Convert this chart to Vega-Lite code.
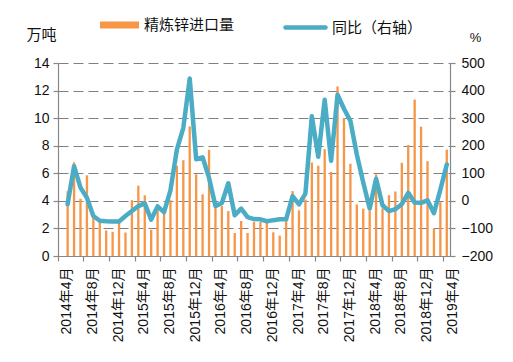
{
  "$schema": "https://vega.github.io/schema/vega-lite/v6.json",
  "width": 392,
  "height": 193,
  "autosize": {"type": "none"},
  "padding": {"left": 58, "top": 63, "right": 63, "bottom": 106},
  "background": "white",
  "config": {
    "view": {"stroke": null},
    "font": "Liberation Sans, Noto Sans CJK SC",
    "axis": {
      "labelFont": "Liberation Sans, Noto Sans CJK SC",
      "titleFont": "Liberation Sans, Noto Sans CJK SC",
      "labelColor": "#111111",
      "titleColor": "#111111",
      "domainColor": "#878787",
      "tickColor": "#878787",
      "domainWidth": 1.2,
      "tickWidth": 1.2
    },
    "legend": {
      "labelFont": "Liberation Sans, Noto Sans CJK SC",
      "labelColor": "#111111"
    }
  },
  "data": {
    "values": [
      {"month": "2014年4月", "vol": null, "yoy": null},
      {"month": "2014年5月", "vol": 4.7, "yoy": -12},
      {"month": "2014年6月", "vol": 6.8, "yoy": 126},
      {"month": "2014年7月", "vol": 4.15, "yoy": 48},
      {"month": "2014年8月", "vol": 5.85, "yoy": 11},
      {"month": "2014年9月", "vol": 2.8, "yoy": -55},
      {"month": "2014年10月", "vol": 2.5, "yoy": -72},
      {"month": "2014年11月", "vol": 1.85, "yoy": -74},
      {"month": "2014年12月", "vol": 1.75, "yoy": -75},
      {"month": "2015年1月", "vol": 2.4, "yoy": -75},
      {"month": "2015年2月", "vol": 1.7, "yoy": -55},
      {"month": "2015年3月", "vol": 4.05, "yoy": -37},
      {"month": "2015年4月", "vol": 5.1, "yoy": -19},
      {"month": "2015年5月", "vol": 4.4, "yoy": -9},
      {"month": "2015年6月", "vol": 1.9, "yoy": -68},
      {"month": "2015年7月", "vol": 3.6, "yoy": -20},
      {"month": "2015年8月", "vol": 3.1, "yoy": -41},
      {"month": "2015年9月", "vol": 4.05, "yoy": 38},
      {"month": "2015年10月", "vol": 6.55, "yoy": 186},
      {"month": "2015年11月", "vol": 6.95, "yoy": 265},
      {"month": "2015年12月", "vol": 9.4, "yoy": 444},
      {"month": "2016年1月", "vol": 5.92, "yoy": 151},
      {"month": "2016年2月", "vol": 4.47, "yoy": 158},
      {"month": "2016年3月", "vol": 7.7, "yoy": 84},
      {"month": "2016年4月", "vol": 3.5, "yoy": -19},
      {"month": "2016年5月", "vol": 3.62, "yoy": -8},
      {"month": "2016年6月", "vol": 3.26, "yoy": 64},
      {"month": "2016年7月", "vol": 1.67, "yoy": -52},
      {"month": "2016年8月", "vol": 2.54, "yoy": -28},
      {"month": "2016年9月", "vol": 1.67, "yoy": -59},
      {"month": "2016年10月", "vol": 2.48, "yoy": -66},
      {"month": "2016年11月", "vol": 2.47, "yoy": -67},
      {"month": "2016年12月", "vol": 2.42, "yoy": -74},
      {"month": "2017年1月", "vol": 1.72, "yoy": -70},
      {"month": "2017年2月", "vol": 1.48, "yoy": -67},
      {"month": "2017年3月", "vol": 2.6, "yoy": -67},
      {"month": "2017年4月", "vol": 4.71, "yoy": 17},
      {"month": "2017年5月", "vol": 3.31, "yoy": -13},
      {"month": "2017年6月", "vol": 4.1, "yoy": 26},
      {"month": "2017年7月", "vol": 6.78, "yoy": 307},
      {"month": "2017年8月", "vol": 6.55, "yoy": 160},
      {"month": "2017年9月", "vol": 7.75, "yoy": 367},
      {"month": "2017年10月", "vol": 6.1, "yoy": 145},
      {"month": "2017年11月", "vol": 12.3, "yoy": 385},
      {"month": "2017年12月", "vol": 10.0, "yoy": 334},
      {"month": "2018年1月", "vol": 6.69, "yoy": 290},
      {"month": "2018年2月", "vol": 3.74, "yoy": 168},
      {"month": "2018年3月", "vol": 3.44, "yoy": 67},
      {"month": "2018年4月", "vol": 3.3, "yoy": -28},
      {"month": "2018年5月", "vol": 5.92, "yoy": 80},
      {"month": "2018年6月", "vol": 3.45, "yoy": -16},
      {"month": "2018年7月", "vol": 4.41, "yoy": -37},
      {"month": "2018年8月", "vol": 4.68, "yoy": -30},
      {"month": "2018年9月", "vol": 6.76, "yoy": -12},
      {"month": "2018年10月", "vol": 8.05, "yoy": 29},
      {"month": "2018年11月", "vol": 11.35, "yoy": -6},
      {"month": "2018年12月", "vol": 9.38, "yoy": -7},
      {"month": "2019年1月", "vol": 6.88, "yoy": 2},
      {"month": "2019年2月", "vol": 2.0, "yoy": -45},
      {"month": "2019年3月", "vol": 3.9, "yoy": 41},
      {"month": "2019年4月", "vol": 7.72, "yoy": 132}
    ]
  },
  "encoding": {
    "x": {
      "field": "month",
      "type": "nominal",
      "sort": null,
      "scale": {
        "domain": ["2014年4月","2014年5月","2014年6月","2014年7月","2014年8月","2014年9月","2014年10月","2014年11月","2014年12月","2015年1月","2015年2月","2015年3月","2015年4月","2015年5月","2015年6月","2015年7月","2015年8月","2015年9月","2015年10月","2015年11月","2015年12月","2016年1月","2016年2月","2016年3月","2016年4月","2016年5月","2016年6月","2016年7月","2016年8月","2016年9月","2016年10月","2016年11月","2016年12月","2017年1月","2017年2月","2017年3月","2017年4月","2017年5月","2017年6月","2017年7月","2017年8月","2017年9月","2017年10月","2017年11月","2017年12月","2018年1月","2018年2月","2018年3月","2018年4月","2018年5月","2018年6月","2018年7月","2018年8月","2018年9月","2018年10月","2018年11月","2018年12月","2019年1月","2019年2月","2019年3月","2019年4月"],
        "paddingInner": 0,
        "paddingOuter": 0
      },
      "axis": {
        "title": null,
        "values": ["2014年4月","2014年8月","2014年12月","2015年4月","2015年8月","2015年12月","2016年4月","2016年8月","2016年12月","2017年4月","2017年8月","2017年12月","2018年4月","2018年8月","2018年12月","2019年4月"],
        "labelAngle": -90,
        "labelFontSize": 14,
        "labelPadding": 6,
        "labelOffset": 6,
        "bandPosition": 0,
        "tickSize": 5,
        "grid": false
      }
    }
  },
  "layer": [
    {
      "mark": {"type": "bar", "width": {"band": 0.36}},
      "encoding": {
        "y": {
          "field": "vol",
          "type": "quantitative",
          "scale": {"domain": [0, 14], "nice": false},
          "axis": {
            "title": "万吨",
            "titleAngle": 0,
            "titleX": -17,
            "titleY": -29,
            "titleAlign": "center",
            "titleBaseline": "middle",
            "titleFontSize": 15,
            "titleFontWeight": "normal",
            "values": [0, 2, 4, 6, 8, 10, 12, 14],
            "labelFontSize": 14,
            "labelPadding": 4,
            "tickSize": 5,
            "grid": true,
            "gridColor": "#808080",
            "gridDash": [10, 5],
            "gridWidth": 1.2
          }
        },
        "fill": {
          "datum": "精炼锌进口量",
          "scale": {"range": ["#F79646"]},
          "legend": {
            "orient": "none",
            "legendX": 42,
            "legendY": -57.5,
            "title": null,
            "padding": 0,
            "symbolType": "M-1,-0.18L1,-0.18L1,0.18L-1,0.18Z",
            "symbolSize": 1521,
            "symbolStrokeWidth": 0,
            "labelFontSize": 15,
            "labelOffset": 5
          }
        }
      }
    },
    {
      "mark": {"type": "line", "strokeWidth": 4.5, "strokeJoin": "round", "strokeCap": "round"},
      "encoding": {
        "y": {
          "field": "yoy",
          "type": "quantitative",
          "scale": {"domain": [-200, 500], "nice": false},
          "axis": {
            "orient": "right",
            "title": "%",
            "titleAngle": 0,
            "titleX": 25,
            "titleY": -26,
            "titleAlign": "center",
            "titleBaseline": "middle",
            "titleFontSize": 13,
            "titleFontWeight": "normal",
            "values": [-200, -100, 0, 100, 200, 300, 400, 500],
            "labelFontSize": 14,
            "labelPadding": 6,
            "tickSize": 5,
            "grid": false
          }
        },
        "stroke": {
          "datum": "同比（右轴）",
          "scale": {"range": ["#4BACC6"]},
          "legend": {
            "orient": "none",
            "legendX": 225,
            "legendY": -58,
            "title": null,
            "padding": 0,
            "symbolType": "stroke",
            "symbolSize": 1600,
            "symbolStrokeWidth": 4.5,
            "labelFontSize": 15,
            "labelOffset": 4,
            "encode": {"symbols": {"update": {"strokeCap": {"value": "round"}}}}
          }
        }
      }
    }
  ],
  "resolve": {"scale": {"y": "independent"}}
}
